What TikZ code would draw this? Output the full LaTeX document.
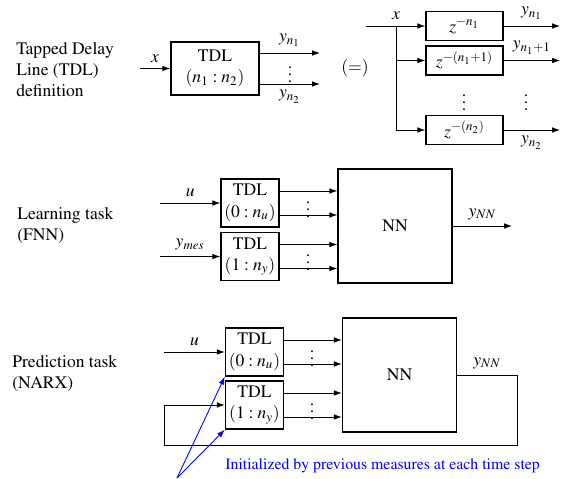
\documentclass[tikz,border=0pt]{standalone}
\usepackage[T1]{fontenc}
\usepackage{mathptmx}
\usetikzlibrary{arrows.meta}

\tikzset{
	box/.style={draw, line width=0.8pt, align=center, inner sep=1pt},
	tdlbox/.style={box, minimum width=1.16cm, minimum height=0.96cm},
	delaybox/.style={box, minimum width=1.54cm, minimum height=0.58cm},
	nnbox/.style={box, minimum width=2.28cm, minimum height=2.28cm},
	arr/.style={-{Latex[length=4.5pt,width=3.2pt]}, line width=0.5pt},
	note/.style={align=left, anchor=west, inner sep=0pt},
	dotsnode/.style={inner sep=0pt},
}

\begin{document}
\begin{tikzpicture}[x=0.02cm,y=-0.02cm]
	\useasboundingbox (0,0) rectangle (567,479);
	
	% TDL definition
	\node[note] (deftxt) at (16,70) {Tapped Delay\\Line (TDL)\\definition};
	\node[box, minimum width=1.76cm, minimum height=1.06cm] (tdl) at (215,68.5) {TDL\\$(n_1:n_2)$};
	\coordinate (xin) at (140,68.5);
	\coordinate (o1) at (320,53);
	\coordinate (o2) at (320,84);
	\draw[arr] (xin) -- node[above]{$x$} (tdl);
	\draw[arr] (tdl.east |- o1) -- node[above]{$y_{n_1}$} (o1);
	\draw[arr] (tdl.east |- o2) -- node[below]{$y_{n_2}$} (o2);
	\node[dotsnode] (dots0) at (290,69) {$\vdots$};
	\node (eq) at (355,68) {$(=)$};
	
	% delay chain
	\node[delaybox] (d1) at (464.5,26) {$z^{-n_1}$};
	\node[delaybox] (d2) at (464.5,60.5) {$z^{-(n_1+1)}$};
	\node[delaybox] (d3) at (464.5,130) {$z^{-(n_2)}$};
	\coordinate (xs) at (366,26);
	\coordinate (br) at (396,26);
	\coordinate (e1) at (560,26);
	\draw[arr] (xs) -- (d1);
	\node[above] (xlab) at (br) {$x$};
	\draw[line width=0.5pt] (br) -- (br |- d3);
	\draw[arr] (br |- d2) -- (d2);
	\draw[arr] (br |- d3) -- (d3);
	\draw[arr] (d1) -- node[above]{$y_{n_1}$} (e1);
	\draw[arr] (d2) -- node[above]{$y_{n_1+1}$} (e1 |- d2);
	\draw[arr] (d3) -- node[below]{$y_{n_2}$} (e1 |- d3);
	\node[dotsnode] (dots1) at (464,97) {$\vdots$};
	\node[dotsnode] (dots2) at (526,97) {$\vdots$};
	
	% learning task
	\node[note] (learntxt) at (17,226) {Learning task\\(FNN)};
	\node[tdlbox] (lu) at (250,203) {TDL\\$(0:n_u)$};
	\node[tdlbox] (ly) at (250,256.5) {TDL\\$(1:n_y)$};
	\node[nnbox] (lnn) at (395,226) {NN};
	\coordinate (lin) at (160,0);
	\coordinate (lout) at (512,226);
	\draw[arr] (lin |- lu) -- node[above]{$u$} (lu);
	\draw[arr] (lin |- ly) -- node[above]{$y_{mes}$} (ly);
	\draw[arr] ([yshift=0.24cm]lu.east) coordinate (a1) -- (a1 -| lnn.west);
	\draw[arr] ([yshift=-0.24cm]lu.east) coordinate (a2) -- (a2 -| lnn.west);
	\draw[arr] ([yshift=0.24cm]ly.east) coordinate (a3) -- (a3 -| lnn.west);
	\draw[arr] ([yshift=-0.24cm]ly.east) coordinate (a4) -- (a4 -| lnn.west);
	\node[dotsnode] (dots3) at (308,204) {$\vdots$};
	\node[dotsnode] (dots4) at (308,257) {$\vdots$};
	\draw[arr] (lnn) -- node[above]{$y_{NN}$} (lout);
	
	% prediction task
	\node[note] (predtxt) at (12,374) {Prediction task\\(NARX)};
	\node[tdlbox] (pu) at (254.5,352) {TDL\\$(0:n_u)$};
	\node[tdlbox] (py) at (254.5,405) {TDL\\$(1:n_y)$};
	\node[nnbox] (pnn) at (399.5,375) {NN};
	\coordinate (pin) at (164,352);
	\coordinate (fb1) at (517,375);
	\coordinate (fb2) at (517,445);
	\coordinate (fb3) at (164,445);
	\draw[arr] (pin) -- node[above]{$u$} (pu);
	\draw[arr] ([yshift=0.24cm]pu.east) coordinate (b1) -- (b1 -| pnn.west);
	\draw[arr] ([yshift=-0.24cm]pu.east) coordinate (b2) -- (b2 -| pnn.west);
	\draw[arr] ([yshift=0.24cm]py.east) coordinate (b3) -- (b3 -| pnn.west);
	\draw[arr] ([yshift=-0.24cm]py.east) coordinate (b4) -- (b4 -| pnn.west);
	\node[dotsnode] (dots5) at (312,353) {$\vdots$};
	\node[dotsnode] (dots6) at (312,406) {$\vdots$};
	\draw[line width=0.5pt] (pnn) -- node[above]{$y_{NN}$} (fb1) -- (fb2) -- (fb3);
	\draw[arr] (fb3) -- (fb3 |- py) -- (py);
	
	% initialisation note
	\coordinate (src) at (177,478);
	\draw[arr, blue] (src) -- (pu.south west);
	\draw[arr, blue] (src) -- (py.south west);
	\node[note, text=blue, font=\small] (inittxt) at (225,466) {Initialized by previous measures at each time step};
	
\end{tikzpicture}
\end{document}
